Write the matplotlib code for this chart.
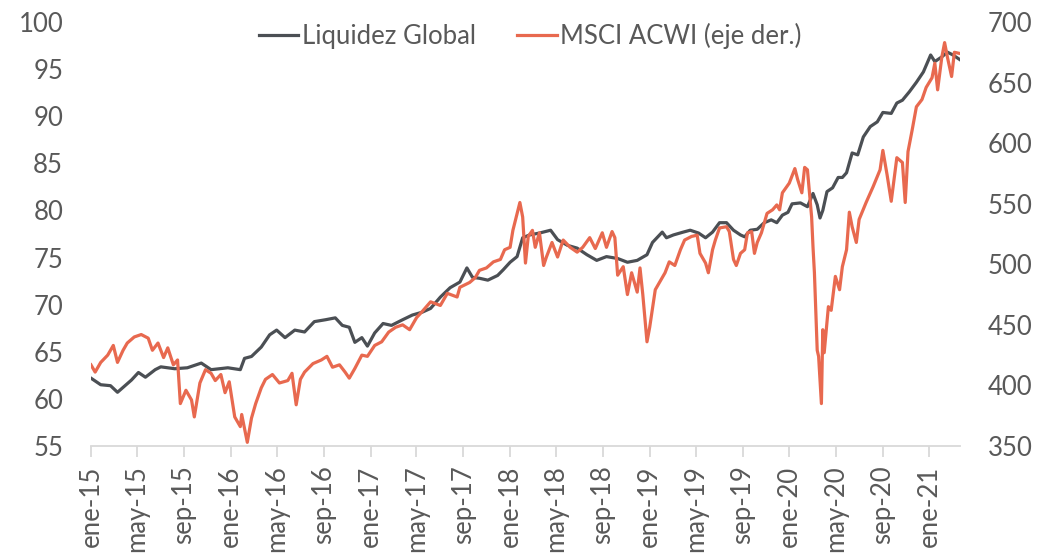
import matplotlib
matplotlib.use("Agg")
import matplotlib.pyplot as plt
import matplotlib.dates as mdates
from matplotlib.ticker import FuncFormatter
import pandas as pd
import numpy as np

# ---------------- data ----------------
liq_t = [2015.00, 2015.07, 2015.14, 2015.19, 2015.29, 2015.34, 2015.39, 2015.46, 2015.50,
         2015.60, 2015.69, 2015.79, 2015.86, 2015.98, 2016.07, 2016.10, 2016.15, 2016.22,
         2016.28, 2016.33, 2016.39, 2016.46, 2016.53, 2016.60, 2016.68, 2016.75, 2016.80,
         2016.85, 2016.89, 2016.94, 2016.98, 2017.03, 2017.09, 2017.15, 2017.23, 2017.30,
         2017.37, 2017.43, 2017.50, 2017.57, 2017.64, 2017.69, 2017.73, 2017.78, 2017.84,
         2017.91, 2017.95, 2018.00, 2018.05, 2018.09, 2018.14, 2018.21, 2018.29, 2018.34,
         2018.41, 2018.48, 2018.55, 2018.62, 2018.69, 2018.77, 2018.84, 2018.91, 2018.98,
         2019.02, 2019.09, 2019.12, 2019.17, 2019.24, 2019.29, 2019.35, 2019.40, 2019.45,
         2019.50, 2019.55, 2019.60, 2019.65, 2019.68, 2019.72, 2019.77, 2019.82, 2019.87,
         2019.91, 2019.95, 2019.99, 2020.02, 2020.08, 2020.13, 2020.17, 2020.20, 2020.22,
         2020.24, 2020.27, 2020.31, 2020.35, 2020.38, 2020.41, 2020.45, 2020.49, 2020.53,
         2020.58, 2020.63, 2020.67, 2020.73, 2020.77, 2020.81, 2020.86, 2020.91, 2020.96,
         2021.01, 2021.04, 2021.09, 2021.13, 2021.17, 2021.22]
liq_v = [62.2, 61.5, 61.4, 60.7, 62.0, 62.8, 62.3, 63.1, 63.4,
         63.2, 63.3, 63.8, 63.1, 63.3, 63.1, 64.3, 64.5, 65.5,
         66.8, 67.3, 66.5, 67.3, 67.1, 68.2, 68.4, 68.6, 67.8,
         67.6, 66.0, 66.5, 65.6, 67.0, 68.0, 67.8, 68.4, 68.9,
         69.2, 69.6, 70.8, 71.8, 72.4, 73.9, 72.9, 72.8, 72.6,
         73.1, 73.7, 74.5, 75.1, 77.1, 77.4, 77.6, 77.9, 76.9,
         76.3, 76.0, 75.3, 74.7, 75.1, 74.9, 74.5, 74.7, 75.3,
         76.6, 77.7, 77.1, 77.4, 77.7, 77.9, 77.6, 77.1, 77.7,
         78.7, 78.7, 77.9, 77.4, 77.2, 77.9, 78.0, 78.7, 79.0,
         78.7, 79.5, 79.8, 80.7, 80.8, 80.4, 81.8, 80.6, 79.2,
         80.0, 82.0, 82.4, 83.5, 83.5, 84.0, 86.1, 85.9, 87.8,
         88.9, 89.4, 90.4, 90.3, 91.4, 91.7, 92.6, 93.6, 94.7,
         96.5, 95.8, 96.3, 96.8, 96.5, 96.0]

msci_t = [2015.00, 2015.03, 2015.07, 2015.12, 2015.16, 2015.19, 2015.23, 2015.26, 2015.31,
          2015.36, 2015.41, 2015.44, 2015.48, 2015.52, 2015.55, 2015.59, 2015.62, 2015.64,
          2015.68, 2015.72, 2015.74, 2015.78, 2015.82, 2015.86, 2015.89, 2015.93, 2015.96,
          2015.99, 2016.03, 2016.07, 2016.08, 2016.12, 2016.15, 2016.18, 2016.22, 2016.25,
          2016.30, 2016.35, 2016.41, 2016.44, 2016.47, 2016.50, 2016.53, 2016.59, 2016.65,
          2016.69, 2016.73, 2016.78, 2016.82, 2016.85, 2016.89, 2016.94, 2016.98, 2017.03,
          2017.08, 2017.13, 2017.18, 2017.23, 2017.28, 2017.33, 2017.37, 2017.43, 2017.50,
          2017.55, 2017.62, 2017.64, 2017.71, 2017.75, 2017.78, 2017.83, 2017.88, 2017.93,
          2017.96, 2018.00, 2018.02, 2018.05, 2018.07, 2018.09, 2018.11, 2018.13, 2018.16,
          2018.18, 2018.21, 2018.24, 2018.26, 2018.30, 2018.34, 2018.38, 2018.43, 2018.48,
          2018.52, 2018.57, 2018.61, 2018.66, 2018.69, 2018.73, 2018.75, 2018.77, 2018.81,
          2018.84, 2018.87, 2018.91, 2018.93, 2018.95, 2018.98, 2019.00, 2019.04, 2019.07,
          2019.11, 2019.14, 2019.18, 2019.22, 2019.25, 2019.30, 2019.34, 2019.36, 2019.40,
          2019.42, 2019.45, 2019.47, 2019.50, 2019.55, 2019.57, 2019.60, 2019.62, 2019.65,
          2019.68, 2019.70, 2019.73, 2019.75, 2019.77, 2019.80, 2019.84, 2019.88, 2019.91,
          2019.93, 2019.95, 2020.00, 2020.04, 2020.06, 2020.09, 2020.11, 2020.13, 2020.16,
          2020.17, 2020.18, 2020.20, 2020.21, 2020.23, 2020.24, 2020.25, 2020.28, 2020.30,
          2020.33, 2020.36, 2020.38, 2020.41, 2020.43, 2020.45, 2020.48, 2020.50, 2020.55,
          2020.60, 2020.65, 2020.67, 2020.70, 2020.73, 2020.77, 2020.81, 2020.83, 2020.85,
          2020.88, 2020.91, 2020.95, 2020.98, 2021.02, 2021.04, 2021.06, 2021.09, 2021.11,
          2021.13, 2021.16, 2021.18, 2021.22]
msci_v = [417, 411, 419, 425, 433, 419, 429, 435, 440,
          442, 439, 429, 435, 423, 431, 417, 421, 385,
          396, 388, 374, 402, 413, 410, 404, 409, 394,
          403, 374, 366, 376, 353, 373, 385, 398, 405,
          409, 402, 404, 410, 384, 405, 411, 418, 421,
          424, 415, 417, 411, 406, 414, 425, 424, 433,
          436, 444, 448, 450, 446, 456, 461, 469, 466,
          476, 473, 481, 485, 489, 495, 497, 502, 504,
          512, 514, 528, 542, 551, 539, 501, 523, 528,
          514, 526, 499, 506, 518, 506, 520, 514, 510,
          514, 522, 513, 526, 514, 527, 522, 491, 498,
          475, 493, 477, 497, 475, 436, 448, 479, 485,
          493, 502, 499, 512, 520, 523, 524, 509, 501,
          493, 512, 520, 530, 531, 527, 504, 499, 509,
          512, 526, 527, 509, 518, 526, 542, 545, 549,
          545, 559, 567, 579, 570, 559, 580, 578, 539,
          514, 493, 429, 424, 385, 446, 427, 465, 462,
          490, 479, 498, 512, 543, 531, 518, 537, 551,
          564, 578, 594, 574, 552, 588, 584, 551, 593,
          611, 630, 636, 646, 654, 666, 644, 671, 683,
          671, 655, 675, 674]

left_ticks = [55, 60, 65, 70, 75, 80, 85, 90, 95, 100]
right_ticks = [350, 400, 450, 500, 550, 600, 650, 700]
month_names = {1: "ene", 5: "may", 9: "sep"}
series_labels = ["Liquidez Global", "MSCI ACWI (eje der.)"]


def to_dates(ts):
    out = []
    for t in ts:
        y = int(np.floor(t))
        start = pd.Timestamp(year=y, month=1, day=1)
        out.append(start + pd.Timedelta(days=(t - y) * 365.25))
    return out


liq_d = to_dates(liq_t)
msci_d = to_dates(msci_t)

# ---------------- style ----------------
plt.rcParams["font.family"] = ["Lato", "DejaVu Sans"]
TEXT = "#595959"
GRAY = "#4b4f54"
ORANGE = "#e8694f"
AXIS = "#d9d9d9"
FS = 18.5

fig = plt.figure(figsize=(10.43, 5.60), dpi=100)
ax = fig.add_axes([0.0872, 0.2036, 0.9204 - 0.0872, 0.9607 - 0.2036])
ax2 = ax.twinx()

l1, = ax.plot(liq_d, liq_v, color=GRAY, lw=2.3, label=series_labels[0],
              solid_joinstyle="round")
l2, = ax2.plot(msci_d, msci_v, color=ORANGE, lw=2.3, label=series_labels[1],
               solid_joinstyle="round")

ax.set_ylim(55, 100)
ax2.set_ylim(350, 700)
ax.set_yticks(left_ticks)
ax2.set_yticks(right_ticks)
ax.set_xlim(pd.Timestamp("2015-01-01"), liq_d[-1])

ax.xaxis.set_major_locator(mdates.MonthLocator(bymonth=[1, 5, 9]))
ax.xaxis.set_major_formatter(FuncFormatter(
    lambda x, pos: "%s-%s" % (month_names[mdates.num2date(x).month],
                              mdates.num2date(x).strftime("%y"))))

for a in (ax, ax2):
    for s in a.spines.values():
        s.set_visible(False)
ax.spines["bottom"].set_visible(True)
ax.spines["bottom"].set_color(AXIS)
ax.spines["bottom"].set_linewidth(1.3)

ax.tick_params(axis="x", which="major", length=8, width=1.3, color=AXIS,
               labelsize=FS, labelcolor=TEXT, pad=6, labelrotation=90)
ax.tick_params(axis="y", length=0, labelsize=FS, labelcolor=TEXT, pad=20)
ax2.tick_params(axis="y", length=0, labelsize=FS, labelcolor=TEXT, pad=20)

ax2.legend(handles=[l1, l2], loc="center", bbox_to_anchor=(0.505, 0.968), ncol=2,
           frameon=False, fontsize=FS, labelcolor=TEXT, handlelength=1.55,
           handletextpad=0.12, columnspacing=1.6)

fig.savefig("out.png", dpi=100)
